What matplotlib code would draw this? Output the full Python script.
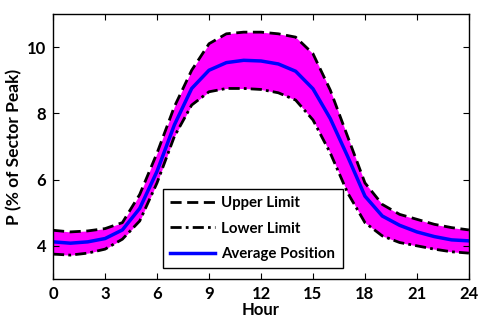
import numpy as np
import matplotlib
matplotlib.use("Agg")
import matplotlib.pyplot as plt

plt.rcParams['font.family'] = ['Lato', 'DejaVu Sans']
plt.rcParams['font.weight'] = 'bold'

hours = list(range(25))
average = [4.12, 4.08, 4.12, 4.22, 4.48, 5.13, 6.25, 7.65, 8.75, 9.3, 9.53, 9.6,
           9.58, 9.49, 9.27, 8.74, 7.84, 6.7, 5.5, 4.9, 4.62, 4.42, 4.28, 4.18, 4.15]
upper = [4.47, 4.42, 4.45, 4.52, 4.7, 5.55, 6.8, 8.2, 9.3, 10.1, 10.4, 10.45,
         10.45, 10.4, 10.3, 9.8, 8.7, 7.3, 5.9, 5.25, 4.95, 4.8, 4.65, 4.55, 4.48]
lower = [3.75, 3.72, 3.78, 3.9, 4.2, 4.75, 5.9, 7.3, 8.25, 8.65, 8.75, 8.75,
         8.72, 8.62, 8.4, 7.8, 6.8, 5.6, 4.7, 4.3, 4.1, 4.0, 3.9, 3.82, 3.78]

fig = plt.figure(figsize=(4.78, 3.24), dpi=100)
ax = fig.add_axes([0.111, 0.139, 0.870, 0.818])

# band of all scenarios
ax.fill_between(hours, lower, upper, color='#ff00ff', lw=0)
ax.plot(hours, upper, 'k--', lw=2, dashes=(4, 2), label='Upper Limit')
ax.plot(hours, lower, 'k-.', lw=2, dashes=(4, 1.5, 1, 1.5), label='Lower Limit')
ax.plot(hours, average, color='#0000ff', lw=2.5, label='Average Position')

ax.set_xlim(0, 24)
ax.set_ylim(3, 11)
ax.set_xticks(range(0, 25, 3))
ax.set_yticks([4, 6, 8, 10])
ax.tick_params(direction='in', top=True, right=True, labelsize=12, length=4, pad=5)
for s in ax.spines.values():
    s.set_linewidth(1)
ax.set_xlabel('Hour', fontsize=12, fontweight='bold', labelpad=0)
ax.set_ylabel('P (% of Sector Peak)', fontsize=12.5, fontweight='bold', labelpad=3)

leg = ax.legend(loc='lower left', bbox_to_anchor=(0.264, 0.040), fontsize=10.8,
                fancybox=False, edgecolor='k', framealpha=1, handlelength=3,
                borderpad=0.5, labelspacing=0.75, handletextpad=0.4,
                borderaxespad=0)
leg.get_frame().set_linewidth(1)

fig.savefig('out.png', dpi=100)
